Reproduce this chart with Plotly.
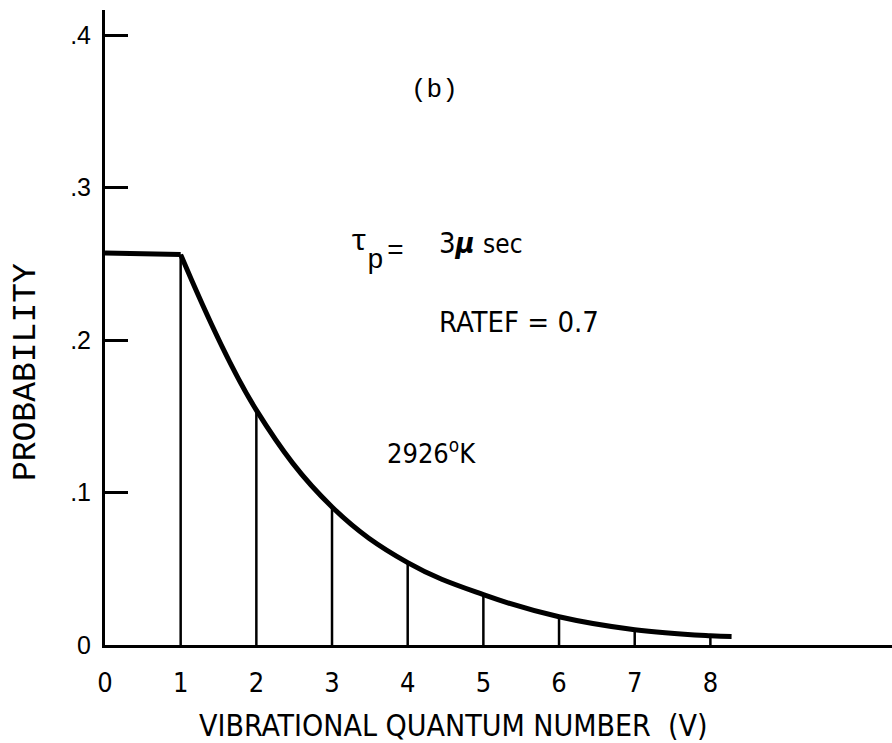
import plotly.graph_objects as go

# Vibrational population distribution, tau_p = 3 usec, RATEF = 0.7, 2926 K
levels = [0, 1, 2, 3, 4, 5, 6, 7, 8]
probability = [0.257, 0.256, 0.154, 0.0905, 0.054, 0.033, 0.0185, 0.0100, 0.0060]

# smooth envelope: flat from v=0 to v=1, then decaying past v=8
curve_v = levels + [8.28]
curve_p = probability + [0.0055]

y_tickvals = [0, 0.1, 0.2, 0.3, 0.4]
y_ticktext = ["0", ".1", ".2", ".3", ".4"]

SANS = "DejaVu Sans Condensed, DejaVu Sans, sans-serif"
MONO = "Liberation Mono, Courier New, monospace"
BLACK = "black"

fig = go.Figure()

# vertical stems at each quantum number (v >= 1)
stem_x, stem_y = [], []
for v, p in zip(levels[1:], probability[1:]):
    stem_x += [v, v, None]
    stem_y += [0, p, None]
fig.add_trace(go.Scatter(x=stem_x, y=stem_y, mode="lines",
                         line=dict(color=BLACK, width=2.5),
                         hoverinfo="skip", showlegend=False))

# flat top between v=0 and v=1
fig.add_trace(go.Scatter(x=curve_v[:2], y=curve_p[:2], mode="lines",
                         line=dict(color=BLACK, width=5),
                         showlegend=False))
# decaying envelope from v=1 onward
fig.add_trace(go.Scatter(x=curve_v[1:], y=curve_p[1:], mode="lines",
                         line=dict(color=BLACK, width=5, shape="spline", smoothing=1.1),
                         showlegend=False))

annotations = [
    dict(text="(b)", x=4.36, y=0.364, font=dict(family=MONO, size=26)),
    dict(text="τ", x=3.355, y=0.264, font=dict(family=MONO, size=30)),
    dict(text="p", x=3.58, y=0.252, font=dict(family=MONO, size=28)),
    dict(text="=", x=3.84, y=0.258, font=dict(family=MONO, size=28)),
    dict(text="3<b><i>μ</i></b> <span style='font-size:26px'>sec</span>",
         x=4.386, y=0.2636, xanchor="left", font=dict(family=SANS, size=29)),
    dict(text="RATEF = 0.7", x=4.386, y=0.2118, xanchor="left",
         font=dict(family=SANS, size=29)),
    dict(text="2926<sup>o</sup>K", x=3.70, y=0.1266, xanchor="left",
         font=dict(family=SANS, size=27)),
    dict(text="VIBRATIONAL QUANTUM NUMBER  (V)", x=4.60, y=-0.126,
         yref="paper", font=dict(family=SANS, size=30)),
    dict(text="PROBABILITY", x=-0.099, y=0.43, xref="paper", yref="paper",
         textangle=-90, font=dict(family=MONO, size=33)),
]
for a in annotations:
    a.setdefault("xref", "x")
    a.setdefault("yref", "y")
    a.setdefault("xanchor", "center")
    a.setdefault("yanchor", "middle")
    a["showarrow"] = False
    a["font"]["color"] = BLACK
    fig.add_annotation(**a)

fig.update_layout(
    width=892, height=743, autosize=False,
    margin=dict(l=105, r=0, t=10, b=98),
    paper_bgcolor="white", plot_bgcolor="white",
    showlegend=False,
    xaxis=dict(range=[0, 10.40], showline=True, linewidth=3, linecolor=BLACK,
               showgrid=False, zeroline=False,
               tickvals=levels, ticks="outside", ticklen=12,
               tickcolor="rgba(0,0,0,0)",
               tickfont=dict(family=SANS, size=27, color=BLACK)),
    yaxis=dict(range=[0, 0.4164], showline=True, linewidth=3, linecolor=BLACK,
               showgrid=False, zeroline=False,
               tickvals=y_tickvals, ticktext=y_ticktext,
               ticks="inside", ticklen=23, tickwidth=3, tickcolor=BLACK,
               ticklabelstandoff=6,
               tickfont=dict(family="Liberation Sans, Arial, sans-serif", size=25, color=BLACK)),
)

fig.write_html("out.html")
